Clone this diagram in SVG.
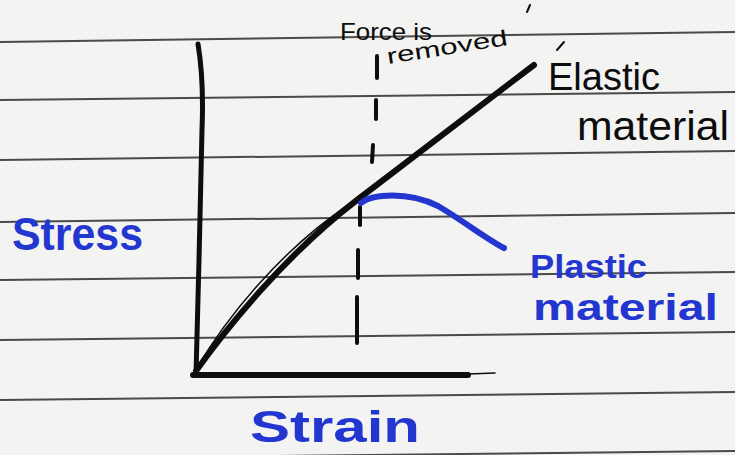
<svg xmlns="http://www.w3.org/2000/svg" width="735" height="455" viewBox="0 0 735 455">
  <defs>
    <style>
      .rule { stroke: #4a4a4a; stroke-width: 2; fill: none; }
      .ink { stroke: #0d0d0d; fill: none; stroke-linecap: round; stroke-linejoin: round; }
      .blue { stroke: #2337d0; fill: none; stroke-linecap: round; }
      .tk { font-family: "Liberation Sans", "DejaVu Sans", sans-serif; fill: #0d0d0d; }
      .tb { font-family: "Liberation Sans", "DejaVu Sans", sans-serif; fill: #2337d0; font-weight: bold; }
    </style>
  </defs>
  <rect x="0" y="0" width="735" height="455" fill="#f3f3f1"/>

  <!-- ruled paper lines -->
  <g id="paper-lines">
    <line class="rule" x1="0" y1="42" x2="735" y2="32"/>
    <line class="rule" x1="0" y1="100" x2="735" y2="92"/>
    <line class="rule" x1="0" y1="160" x2="735" y2="151"/>
    <line class="rule" x1="0" y1="222" x2="735" y2="213"/>
    <line class="rule" x1="0" y1="280" x2="735" y2="272"/>
    <line class="rule" x1="0" y1="340" x2="735" y2="332"/>
    <line class="rule" x1="0" y1="400" x2="735" y2="392"/>
    <line class="rule" x1="0" y1="459" x2="735" y2="451"/>
  </g>

  <!-- axes -->
  <g id="axes">
    <path class="ink" stroke-width="5" d="M198,44 Q204,80 202,130 L199,260 L196,374"/>
    <line class="ink" stroke-width="6" x1="193" y1="375" x2="468" y2="375"/>
    <line class="ink" stroke-width="1.5" x1="468" y1="374" x2="495" y2="373"/>
    <path class="ink" stroke-width="2" d="M530,5 L527,12"/>
  </g>

  <g id="connectors">
    <!-- dashed "force is removed" line -->
    <g id="force-removed-line">
      <line class="ink" stroke-width="4" x1="377" y1="56" x2="377" y2="78"/>
      <line class="ink" stroke-width="4" x1="376" y1="100" x2="376" y2="119"/>
      <line class="ink" stroke-width="4" x1="373" y1="145" x2="372" y2="162"/>
      <line class="ink" stroke-width="4" x1="360" y1="207" x2="360" y2="225"/>
      <line class="ink" stroke-width="4" x1="358" y1="250" x2="358" y2="278"/>
      <line class="ink" stroke-width="4" x1="357" y1="297" x2="357" y2="343"/>
    </g>
    <!-- elastic material line -->
    <g id="elastic-line">
      <path class="ink" stroke-width="1.5" d="M197,368 C225,320 280,250 350,204"/>
      <path class="ink" stroke-width="6" d="M196,371 C225,330 285,255 357,200 L534,65"/>
    </g>
    <!-- plastic material curve -->
    <g id="plastic-curve">
      <path class="blue" stroke-width="6" d="M361,203 C372,194 408,191 438,206 C465,222 485,238 504,248"/>
    </g>
  </g>

  <!-- labels -->
  <g id="label-force">
    <text class="tk" x="340" y="40" font-size="24" textLength="92" lengthAdjust="spacingAndGlyphs">Force is</text>
    <text class="tk" x="388" y="64" font-size="22" textLength="122" lengthAdjust="spacingAndGlyphs" transform="rotate(-9 388 64)">removed</text>
  </g>
  <g id="label-elastic">
    <path class="ink" stroke-width="2" d="M557,50 L564,42"/>
    <text class="tk" x="548" y="90" font-size="38" textLength="112" lengthAdjust="spacingAndGlyphs">Elastic</text>
    <text class="tk" x="577" y="140" font-size="40" textLength="152" lengthAdjust="spacingAndGlyphs">material</text>
  </g>
  <g id="label-stress">
    <text class="tb" x="12" y="250" font-size="46" textLength="131" lengthAdjust="spacingAndGlyphs">Stress</text>
  </g>
  <g id="label-strain">
    <text class="tb" x="250" y="442" font-size="44" textLength="170" lengthAdjust="spacingAndGlyphs">Strain</text>
  </g>
  <g id="label-plastic">
    <text class="tb" x="530" y="278" font-size="34" textLength="117" lengthAdjust="spacingAndGlyphs">Plastic</text>
    <text class="tb" x="533" y="320" font-size="36" textLength="185" lengthAdjust="spacingAndGlyphs">material</text>
  </g>
</svg>
